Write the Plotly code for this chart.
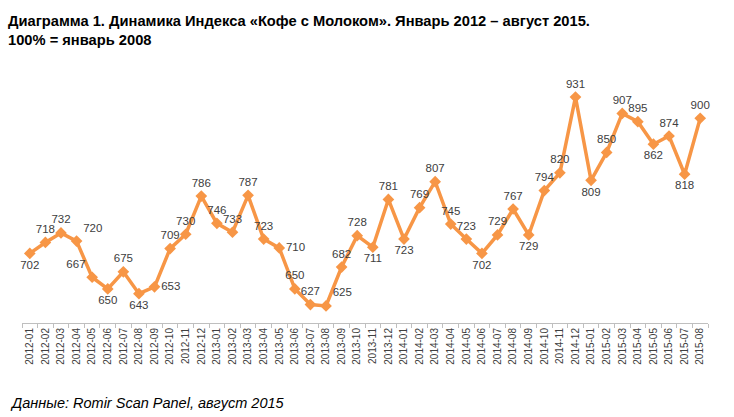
import plotly.graph_objects as go

months = ["2012-01","2012-02","2012-03","2012-04","2012-05","2012-06","2012-07","2012-08","2012-09","2012-10","2012-11","2012-12",
          "2013-01","2013-02","2013-03","2013-04","2013-05","2013-06","2013-07","2013-08","2013-09","2013-10","2013-11","2013-12",
          "2014-01","2014-02","2014-03","2014-04","2014-05","2014-06","2014-07","2014-08","2014-09","2014-10","2014-11","2014-12",
          "2015-01","2015-02","2015-03","2015-04","2015-05","2015-06","2015-07","2015-08"]
values = [702,718,732,720,667,650,675,643,653,709,730,786,
          746,733,787,723,710,650,627,625,682,728,711,781,
          723,769,807,745,723,702,729,767,729,794,820,931,
          809,850,907,895,862,874,818,900]
label_pos = ["bottom center","top center","top center","top right","top left","bottom center","top center","bottom center","middle right","top center","top center","top center",
             "top center","top center","top center","top center","middle right","top center","top center","top right","top center","top center","bottom center","top center",
             "bottom center","top center","top center","top center","top center","bottom center","top center","top center","bottom center","top center","top center","top center",
             "bottom center","top center","top center","top center","bottom center","top center","bottom center","top center"]

title_text = "Диаграмма 1. Динамика Индекса «Кофе с Молоком». Январь 2012 – август 2015.<br>100% = январь 2008"
footer_text = "Данные: Romir Scan Panel, август 2015"

fig = go.Figure()
fig.add_trace(go.Scatter(
    x=months, y=values, mode="lines+markers+text",
    text=[str(v) for v in values], textposition=label_pos,
    textfont=dict(family="Liberation Sans, Arial", size=11.5, color="#404040"),
    line=dict(color="#F79646", width=3.5),
    marker=dict(symbol="diamond", size=9, color="#F79646"),
    cliponaxis=False, showlegend=False,
))

fig.update_layout(
    width=734, height=417,
    margin=dict(l=22, r=26, t=50, b=94),
    paper_bgcolor="white", plot_bgcolor="white",
    font=dict(family="Liberation Sans, Arial", color="#000000"),
    title=dict(text="<b>" + title_text + "</b>", xref="container", yref="container",
               x=8/734, xanchor="left", y=1-26/417, yanchor="top",
               font=dict(size=14.7, color="#000000")),
    xaxis=dict(type="category", tickangle=-90, tickson="boundaries",
               ticks="outside", ticklen=4, tickcolor="#BFBFBF",
               showline=True, linecolor="#BFBFBF", linewidth=1,
               showgrid=False, tickfont=dict(size=10, color="#404040"),
               range=[-0.5, len(months)-0.5]),
    yaxis=dict(range=[600, 1000], visible=False, showgrid=False),
    annotations=[dict(text="<i>" + footer_text + "</i>", xref="paper", yref="paper",
                      x=(8-22)/686, y=(323-403)/273, xanchor="left", yanchor="middle",
                      showarrow=False, font=dict(size=14.5, color="#000000"))],
)

fig.write_html("out.html")
